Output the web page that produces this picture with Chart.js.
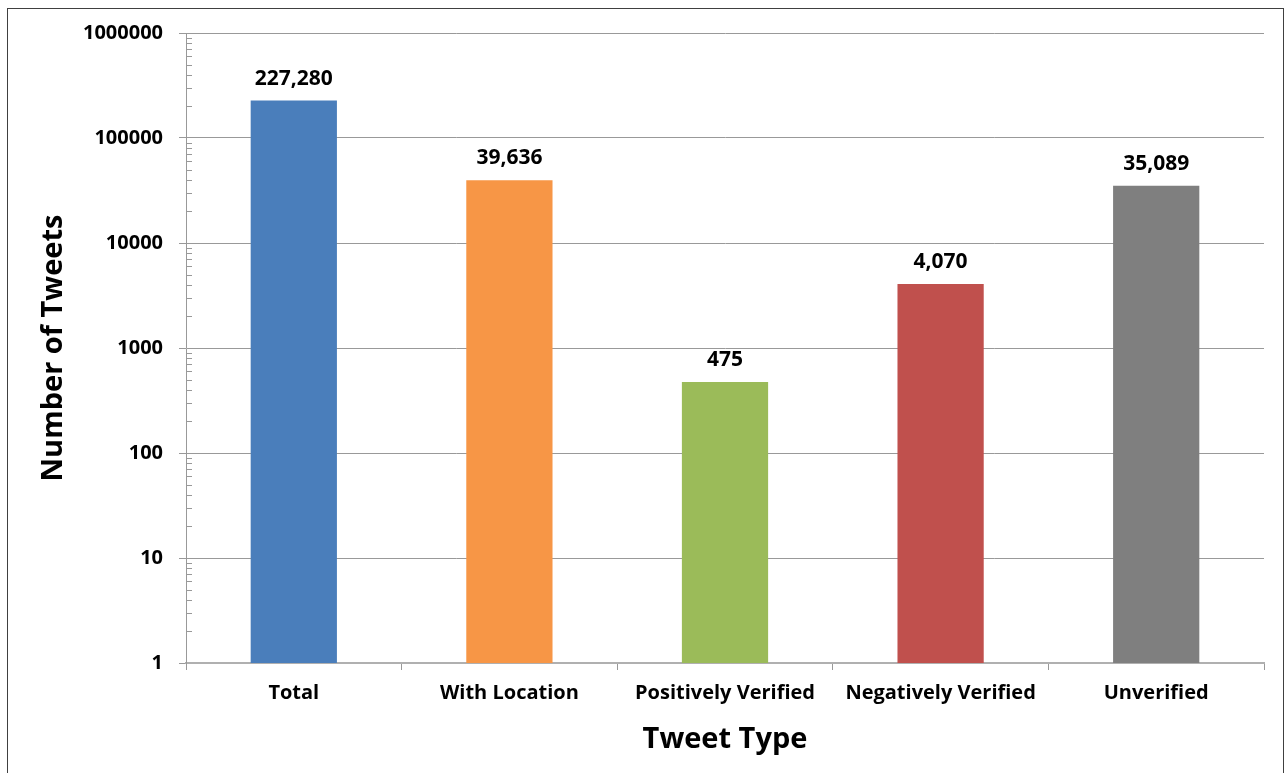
<!DOCTYPE html>
<html><head><meta charset="utf-8">
<script src="https://cdn.jsdelivr.net/npm/chart.js@4.4.1/dist/chart.umd.min.js"></script>
<style>
html,body{margin:0;padding:0;background:#fff;}
#wrap{position:absolute;left:0;top:0;width:1285px;height:773px;}
#frame{position:absolute;left:7px;top:8px;width:1277px;height:780px;border:1.5px solid #404040;box-sizing:border-box;pointer-events:none;}
</style></head><body>
<div id="wrap"><canvas id="c" width="1285" height="773"></canvas></div>
<div id="frame"></div>
<script>
const categories = ["Total", "With Location", "Positively Verified", "Negatively Verified", "Unverified"];
const tweetCounts = [227280, 39636, 475, 4070, 35089];
const barColors = ["#4A7EBB", "#F79646", "#9BBB59", "#C0504D", "#7F7F7F"];
const yTickValues = [1, 10, 100, 1000, 10000, 100000, 1000000];

const FONT = "'Open Sans', 'DejaVu Sans', sans-serif";

const labelPlugin = {
  id: 'valueLabels',
  afterDatasetsDraw(chart) {
    const ctx = chart.ctx;
    const meta = chart.getDatasetMeta(0);
    ctx.save();
    ctx.font = "bold 21px " + FONT;
    ctx.fillStyle = "#000";
    ctx.textAlign = "center";
    ctx.textBaseline = "middle";
    meta.data.forEach((bar, i) => {
      ctx.fillText(tweetCounts[i].toLocaleString('en-US'), bar.x, bar.y - 22);
    });
    ctx.restore();
  }
};

const minorTickPlugin = {
  id: 'minorTicks',
  afterDraw(chart) {
    const y = chart.scales.y;
    const ctx = chart.ctx;
    ctx.save();
    ctx.strokeStyle = "#999";
    ctx.lineWidth = 1;
    for (let d = 1; d < 1000000; d *= 10) {
      for (let m = 2; m <= 9; m++) {
        const py = Math.round(y.getPixelForValue(d * m)) + 0.5;
        ctx.beginPath();
        ctx.moveTo(y.right, py);
        ctx.lineTo(y.right + 6, py);
        ctx.stroke();
      }
    }
    ctx.restore();
  }
};

new Chart(document.getElementById('c'), {
  type: 'bar',
  data: {
    labels: categories,
    datasets: [{
      data: tweetCounts,
      backgroundColor: barColors,
      borderWidth: 0,
      barPercentage: 0.4,
      categoryPercentage: 1.0
    }]
  },
  options: {
    responsive: false,
    animation: false,
    devicePixelRatio: 1,
    layout: { padding: { top: 33, right: 21, left: 0, bottom: 0 } },
    plugins: { legend: { display: false }, tooltip: { enabled: false } },
    scales: {
      x: {
        offset: true,
        grid: { display: true, drawOnChartArea: false, offset: true, tickLength: 7, color: "#999", tickColor: "#999" },
        border: { color: "#B0B0B0", width: 2 },
        ticks: { color: "#000", font: { family: FONT, size: 20, weight: 'bold' }, padding: 11, maxRotation: 0 },
        title: { display: true, text: "Tweet Type", color: "#000", font: { family: FONT, size: 29, weight: 'bold' }, padding: { top: 0, bottom: 16 } },
        afterFit(s) { s.height = 110; }
      },
      y: {
        type: 'logarithmic',
        min: 1,
        max: 1000000,
        afterBuildTicks(s) { s.ticks = yTickValues.map(v => ({ value: v, major: true })); },
        grid: { color: "#999", tickColor: "#999", tickLength: 7 },
        border: { color: "#999", width: 1 },
        ticks: {
          autoSkip: false,
          color: "#000",
          padding: 16,
          font: { family: FONT, size: 20, weight: 'bold' },
          callback: (v) => String(v)
        },
        title: { display: true, text: "Number of Tweets", color: "#000", font: { family: FONT, size: 29, weight: 'bold' }, padding: { top: 36, bottom: 0 } },
        afterFit(s) { s.width = 186; }
      }
    }
  },
  plugins: [labelPlugin, minorTickPlugin]
});
</script>
</body></html>
